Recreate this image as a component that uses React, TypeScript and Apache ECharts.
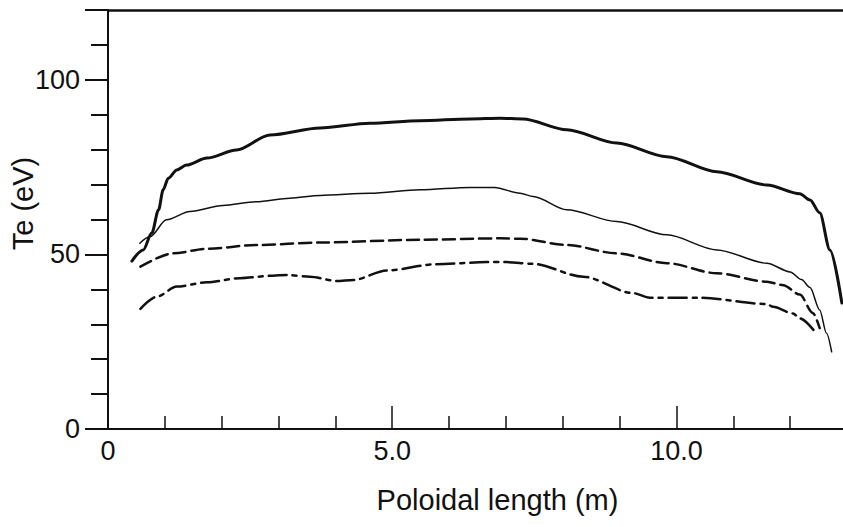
import React, { useEffect, useRef } from "react";
import * as echarts from "echarts";

const xTickLabels = [0, 5, 10];
const yTickLabels = [0, 50, 100];

const thickSolid: [number, number][] = [
  [0.42, 48.1], [0.62, 51.3], [0.77, 56.1], [0.89, 62.8], [0.97, 68.5], [1.06, 71.8],
  [1.21, 74.2], [1.38, 75.6], [1.74, 77.6], [2.26, 79.9], [2.85, 84.2], [3.73, 86.2],
  [4.61, 87.6], [5.49, 88.3], [6.37, 88.8], [6.9, 89.0], [7.3, 88.8], [8.07, 85.7],
  [8.95, 81.9], [9.83, 78.0], [10.71, 73.7], [11.59, 69.9], [12.17, 67.4], [12.35, 65.6],
  [12.52, 61.9], [12.7, 51.3], [12.91, 36.1],
];

const thinSolid: [number, number][] = [
  [0.56, 53.2], [0.74, 55.1], [1.03, 59.9], [1.44, 62.3], [2.02, 64.0], [2.61, 65.1],
  [3.2, 66.1], [3.73, 66.9], [4.61, 67.5], [5.49, 68.5], [6.37, 69.2], [6.8, 69.2],
  [7.25, 67.5], [7.48, 66.6], [8.07, 62.8], [8.95, 59.4], [9.83, 55.6], [10.71, 51.3],
  [11.59, 47.5], [12.0, 45.0], [12.2, 42.8], [12.35, 40.5], [12.52, 34.1], [12.64, 27.4],
  [12.73, 22.1],
];

const dashed: [number, number][] = [
  [0.57, 46.5], [1.14, 50.3], [1.74, 51.6], [2.61, 52.7], [3.73, 53.4], [5.49, 54.2],
  [6.9, 54.6], [7.25, 54.5], [8.07, 52.7], [8.95, 50.3], [9.83, 47.5], [10.71, 44.6],
  [11.59, 42.2], [11.88, 41.2], [12.17, 38.5], [12.4, 33.2], [12.52, 28.9],
];

const dashDot: [number, number][] = [
  [0.57, 34.4], [0.86, 37.9], [1.21, 40.8], [1.74, 42.0], [2.32, 43.2], [2.9, 43.9],
  [3.14, 44.1], [3.55, 43.6], [4.02, 42.4], [4.32, 42.7], [4.9, 45.4], [5.78, 47.2],
  [6.66, 47.8], [7.0, 47.8], [7.48, 47.3], [8.36, 43.6], [9.24, 38.9], [9.53, 37.6],
  [10.41, 37.6], [11.59, 35.8], [11.7, 35.0], [12.05, 33.1], [12.17, 31.7], [12.41, 28.4],
];

const INK = "#111";
const FONT = "Liberation Sans";

export default function App() {
  const ref = useRef<HTMLDivElement>(null);
  useEffect(() => {
    if (!ref.current) return;
    const chart = echarts.init(ref.current, null, { renderer: "svg" });
    const lineSeries = (name: string, data: [number, number][], width: number, type: any) => ({
      name,
      type: "line",
      data,
      showSymbol: false,
      smooth: 0.3,
      smoothMonotone: "x",
      clip: true,
      lineStyle: { color: INK, width, type, cap: "round" },
    });
    chart.setOption({
      animation: false,
      backgroundColor: "#fff",
      grid: { left: 108, right: 0, top: 10, bottom: 98, containLabel: false, outerBoundsMode: "none" },
      xAxis: [
        {
          type: "value",
          min: 0,
          max: 12.93,
          interval: 5,
          name: "Poloidal length (m)",
          nameLocation: "middle",
          nameGap: 56,
          nameMoveOverlap: false,
          nameTextStyle: { color: INK, fontSize: 29, fontFamily: FONT, padding: [0, 0, 0, 44] },
          axisLine: { show: true, onZero: false, lineStyle: { color: INK, width: 2 } },
          axisTick: { show: true, inside: true, length: 23, lineStyle: { color: INK, width: 1.5 }, customValues: xTickLabels },
          minorTick: { show: true, splitNumber: 5, length: 13, lineStyle: { color: INK, width: 1.5 } },
          axisLabel: {
            color: INK,
            fontSize: 27,
            fontFamily: FONT,
            margin: 8,
            customValues: xTickLabels,
            formatter: (v: number) => (v === 0 ? "0" : v.toFixed(1)),
          },
          splitLine: { show: false },
        },
        {
          type: "value",
          position: "top",
          min: 0,
          max: 12.93,
          axisLine: { show: true, onZero: false, lineStyle: { color: INK, width: 2.5 } },
          axisTick: { show: false },
          axisLabel: { show: false },
          splitLine: { show: false },
        },
      ],
      yAxis: {
        type: "value",
        min: 0,
        max: 120,
        interval: 50,
        name: "Te (eV)",
        nameLocation: "middle",
        nameGap: 71,
        nameMoveOverlap: false,
        nameTextStyle: { color: INK, fontSize: 29, fontFamily: FONT, padding: [0, 0, 0, 32] },
        axisLine: { show: true, lineStyle: { color: INK, width: 2 } },
        axisTick: { show: true, length: 23, lineStyle: { color: INK, width: 2 }, customValues: [0, 50, 100, 120] },
        minorTick: { show: true, splitNumber: 5, length: 17, lineStyle: { color: INK, width: 2 } },
        axisLabel: {
          color: INK,
          fontSize: 27,
          fontFamily: FONT,
          margin: 28,
          customValues: yTickLabels,
          formatter: (v: number) => String(v),
        },
        splitLine: { show: false },
      },
      series: [
        lineSeries("thick", thickSolid, 3, "solid"),
        lineSeries("thin", thinSolid, 1.5, "solid"),
        lineSeries("dashed", dashed, 2.5, [12, 6]),
        lineSeries("dashdot", dashDot, 2.5, [18, 6, 4, 6]),
      ],
    });
    return () => chart.dispose();
  }, []);
  return (
    <div
      ref={ref}
      style={{ position: "absolute", left: 0, top: 0, width: 843, height: 527 }}
    />
  );
}
